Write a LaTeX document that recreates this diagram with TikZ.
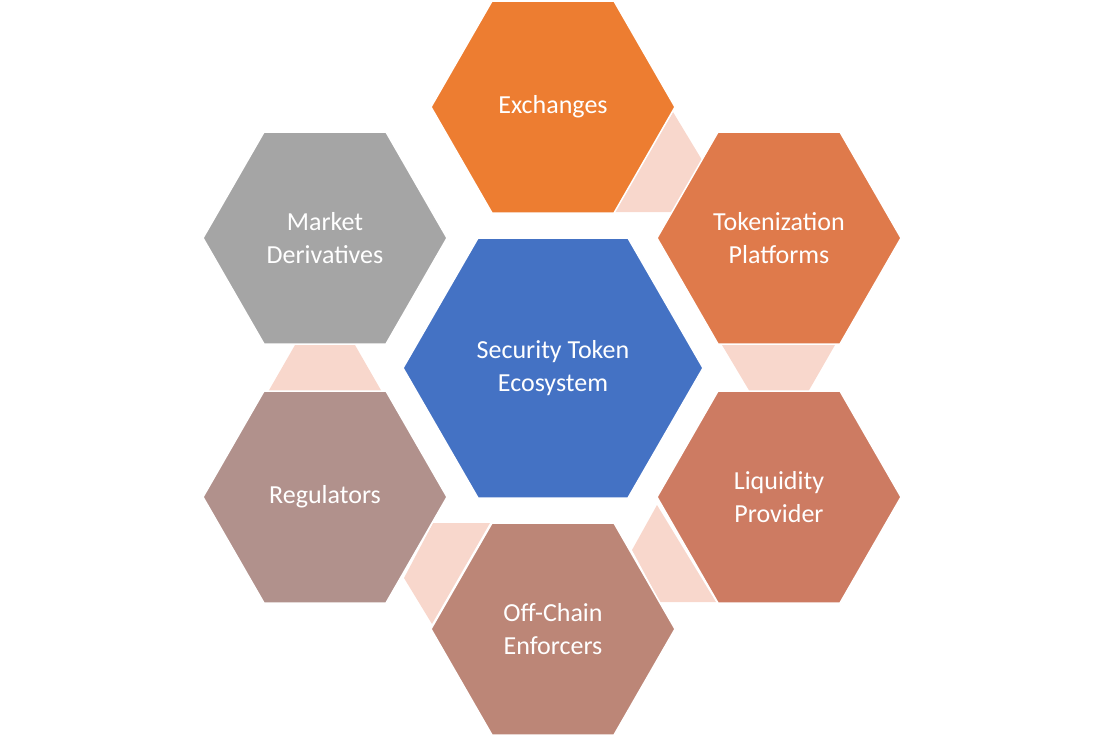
\documentclass[tikz,border=0pt]{standalone}
\usepackage{fontspec}
\setmainfont{Carlito}
\begin{document}
\begin{tikzpicture}[x=1pt,y=-1pt,
  hexa/.style={draw=white,line width=1.5pt,line join=miter},
  lbl/.style={text=white,align=center,font=\fontsize{26}{33}\selectfont},
  conn/.style={fill=pinkc}]
\definecolor{pinkc}{HTML}{F8D7CC}
\definecolor{cEx}{HTML}{ED7D31}
\definecolor{cTo}{HTML}{DF7A4B}
\definecolor{cLi}{HTML}{CD7B62}
\definecolor{cOf}{HTML}{BC8677}
\definecolor{cRe}{HTML}{B1918C}
\definecolor{cMa}{HTML}{A5A5A5}
\definecolor{cCe}{HTML}{4472C4}
\useasboundingbox (0,0) rectangle (1104,737);
% connectors
\fill[conn] (673,112) -- (702,160) -- (672,212) -- (615,212) -- cycle;
\fill[conn] (722,345) -- (835,345) -- (808,392) -- (750,392) -- cycle;
\fill[conn] (657,505) -- (716,602) -- (660,602) -- (632,550) -- cycle;
\fill[conn] (433,523) -- (490,523) -- (432,624) -- (404,578) -- cycle;
\fill[conn] (295,345) -- (355,345) -- (382,392) -- (268,392) -- cycle;
% hexagons
\newcommand\hexat[5]{% name, cx, cy, color, text
  \fill[#4,hexa] (#2-122,#3) -- (#2-61,#3-106) -- (#2+61,#3-106) -- (#2+122,#3) -- (#2+61,#3+106) -- (#2-61,#3+106) -- cycle;
  \node[lbl] (#1) at (#2,#3) {#5};}
\hexat{ex}{553}{107}{cEx}{Exchanges}
\hexat{to}{779}{238}{cTo}{Tokenization\\Platforms}
\hexat{li}{779}{497}{cLi}{Liquidity\\Provider}
\hexat{of}{553}{629}{cOf}{Off-Chain\\Enforcers}
\hexat{re}{325}{497}{cRe}{Regulators}
\hexat{ma}{325}{238}{cMa}{Market\\Derivatives}
\fill[cCe,hexa] (403,368) -- (478,238) -- (628,238) -- (703,368) -- (628,498) -- (478,498) -- cycle;
\node[lbl] (ce) at (553,368) {Security Token\\Ecosystem};
\end{tikzpicture}
\end{document}
